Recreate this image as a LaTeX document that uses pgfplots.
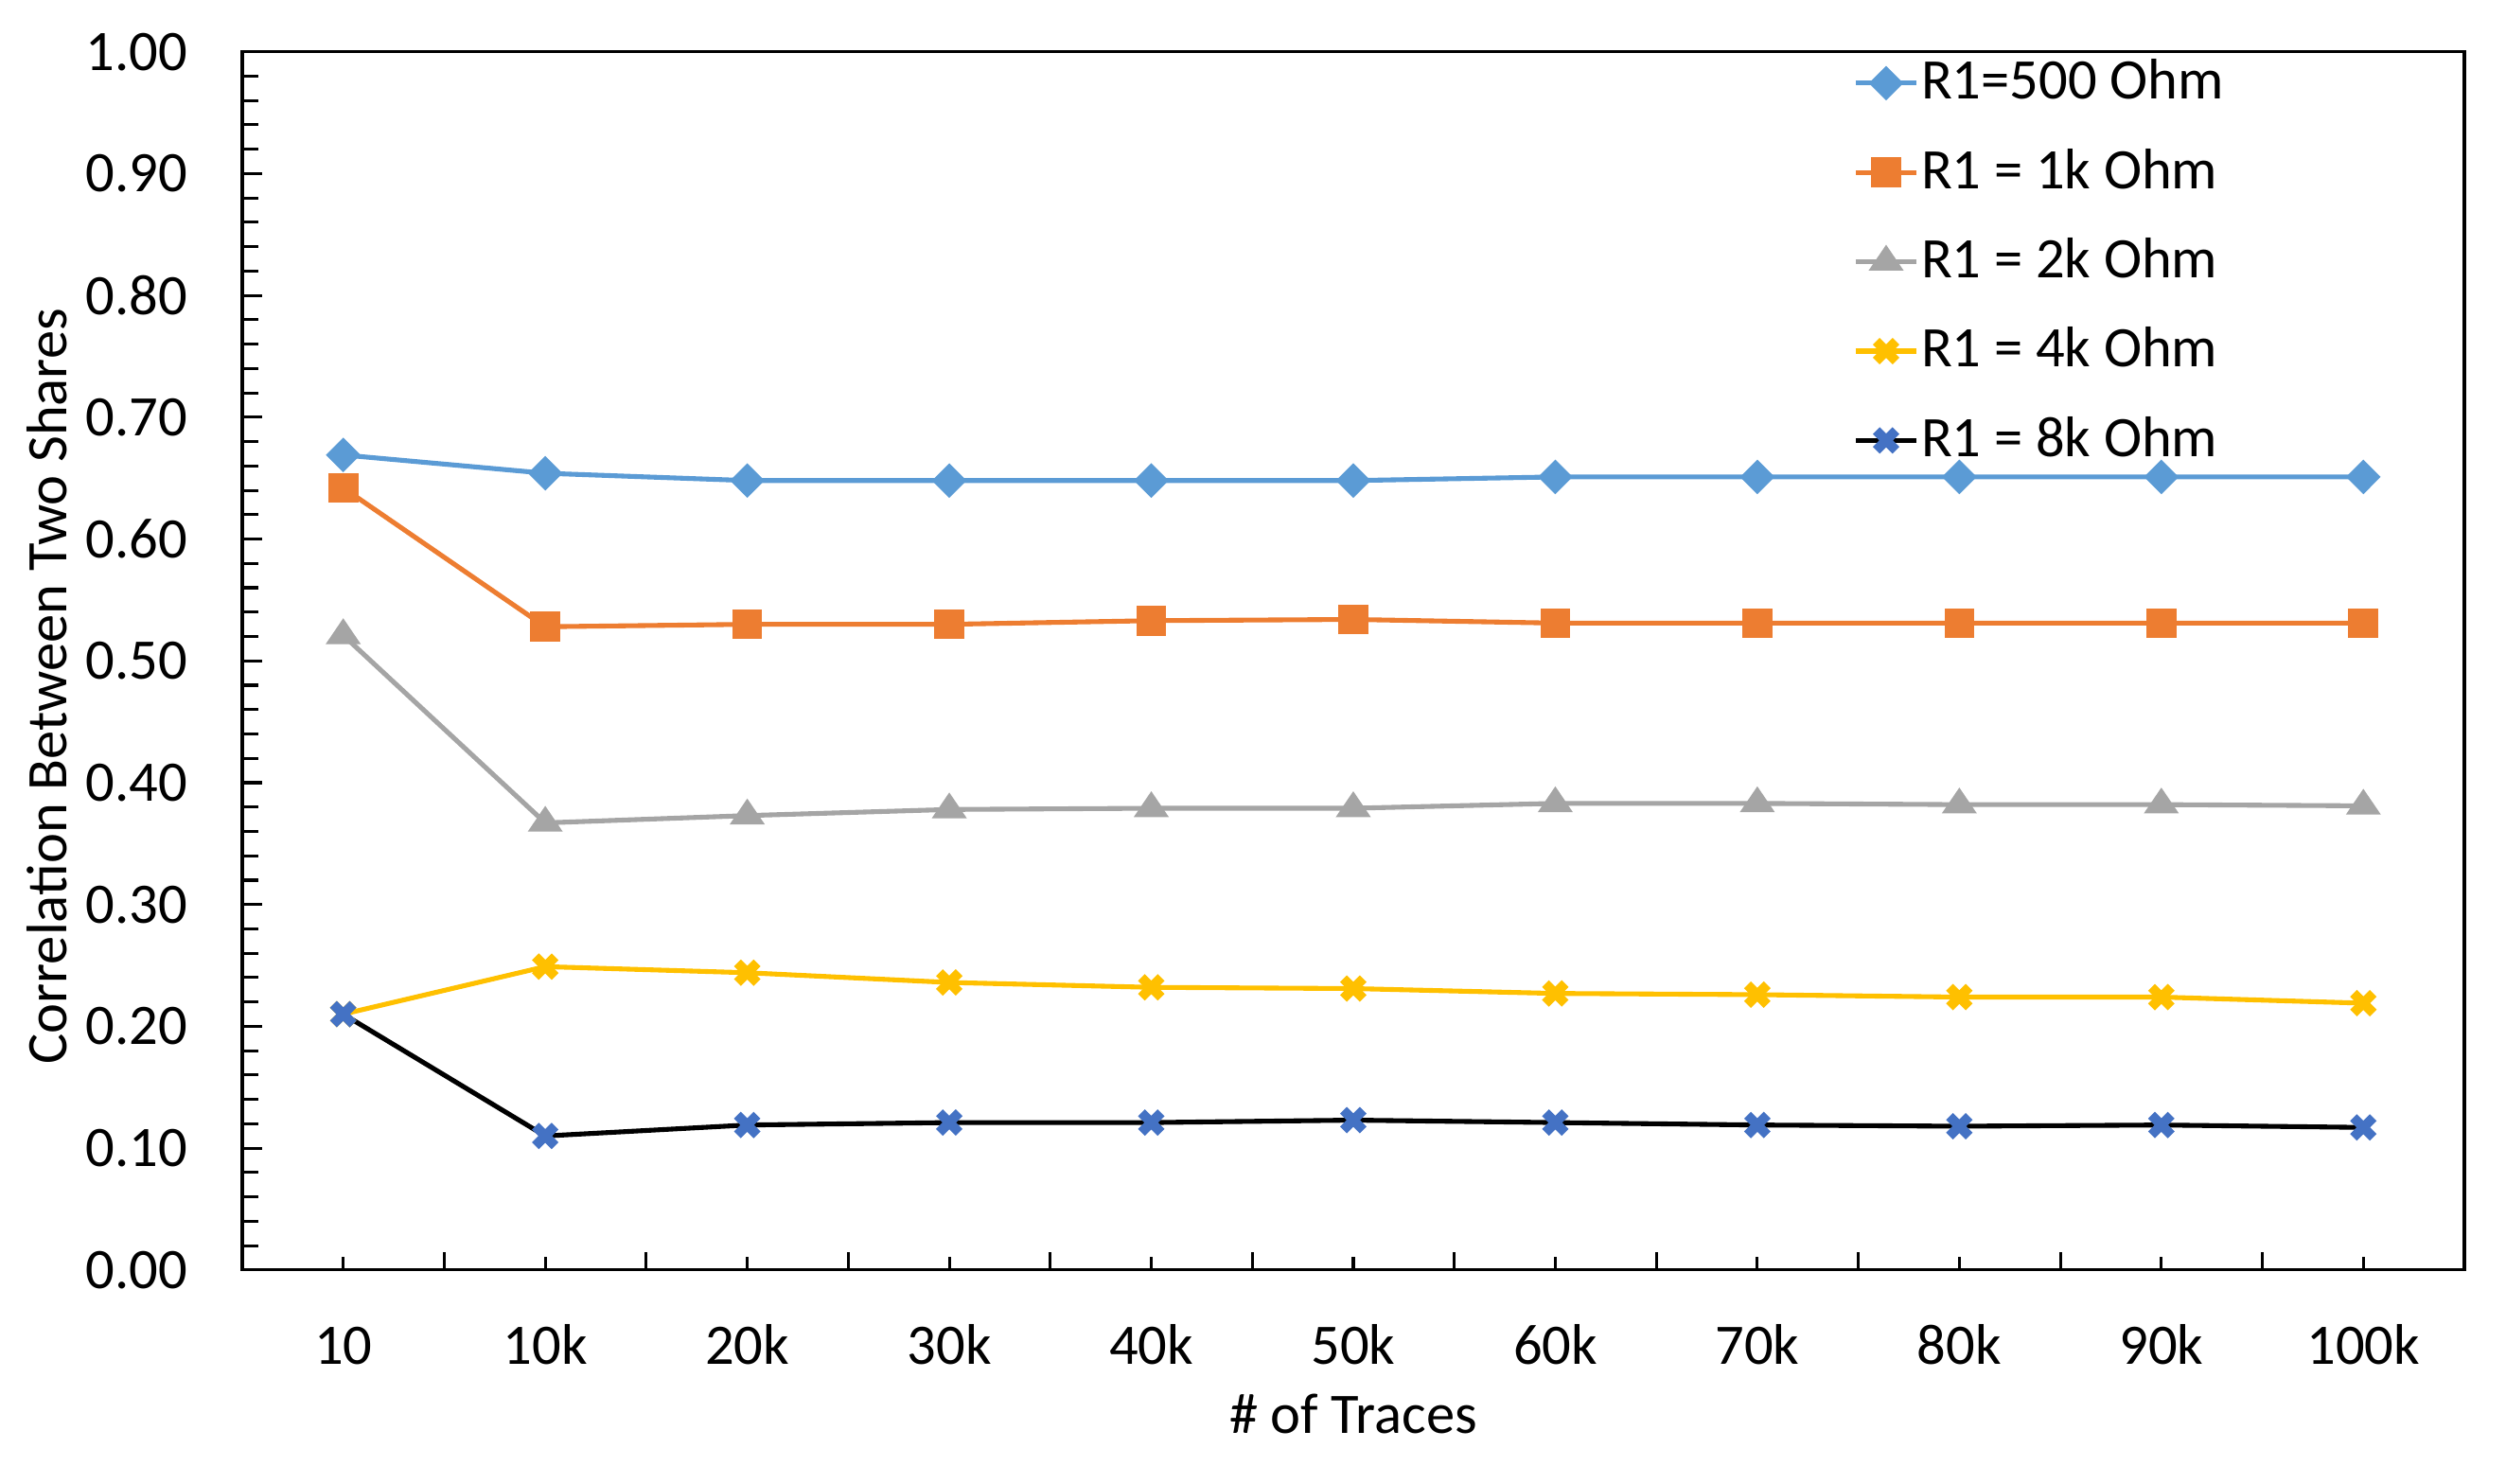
\documentclass[border=0pt]{standalone}
\usepackage{fontspec}
\setmainfont{Carlito}
\usepackage{pgfplots}
\pgfplotsset{compat=1.18}
\definecolor{cA}{HTML}{5B9BD5}
\definecolor{cB}{HTML}{ED7D31}
\definecolor{cC}{HTML}{A5A5A5}
\definecolor{cD}{HTML}{FFC000}
\definecolor{cE}{HTML}{4472C4}
\newcommand{\fs}{\fontsize{10.7pt}{12.8pt}\selectfont}
\begin{document}
\begin{tikzpicture}
\begin{axis}[
  scale only axis, width=415pt, height=227.5pt,
  xmin=-0.5, xmax=10.5, ymin=0, ymax=1,
  xtick={0,...,10},
  xticklabels={10,10k,20k,30k,40k,50k,60k,70k,80k,90k,100k},
  extra x ticks={0.5,1.5,...,9.5},
  extra x tick labels={},
  extra x tick style={major tick length=3.3pt},
  ytick={0,0.1,...,1.0},
  minor y tick num=4,
  extra y ticks={0,0.1,...,1.0},
  extra y tick labels={},
  extra y tick style={major tick length=3.8pt},
  major tick length=2.4pt, minor tick length=2.95pt,
  tick align=inside,
  xtick pos=bottom, ytick pos=left,
  axis line style={line width=0.55pt},
  tick style={line width=0.55pt, black},
  /pgf/number format/assume math mode=true,
  yticklabel style={/pgf/number format/fixed, /pgf/number format/fixed zerofill, /pgf/number format/precision=2, font=\fs, inner sep=0pt, anchor=east, xshift=-10pt},
  xticklabel style={font=\fs, inner sep=0pt, anchor=base, yshift=-17.6pt},
  xlabel={\# of Traces},
  ylabel={Correlation Between Two Shares},
  xlabel style={font=\fs, at={(axis description cs:0.5,-0.1185)}, anchor=center},
  ylabel style={font=\fs, at={(axis description cs:-0.0878,0.479)}, anchor=center},
  legend style={at={(axis description cs:0.7245,1.0)}, anchor=north west, draw=none, fill=none, font=\fs, row sep=5.35pt, inner sep=0pt, nodes={inner xsep=0.4pt, inner ysep=1.2pt}},
  legend cell align=left,
  legend image code/.code={\draw[mark repeat=2,mark phase=2] plot coordinates {(0cm,0cm) (0.2cm,0cm) (0.4cm,0cm)};},
  every axis plot/.append style={line width=0.9pt},
]
\addplot[color=cA, mark=diamond*, mark size=2.6pt, mark options={xscale=1.333, fill=cA, draw=cA}] coordinates {
(0,0.669) (1,0.654) (2,0.648) (3,0.648) (4,0.648) (5,0.648) (6,0.651) (7,0.651) (8,0.651) (9,0.651) (10,0.651)};
\addlegendentry{R1=500 Ohm}
\addplot[color=cB, mark=square*, mark size=2.35pt, mark options={fill=cB, draw=cB}] coordinates {
(0,0.642) (1,0.528) (2,0.530) (3,0.530) (4,0.533) (5,0.534) (6,0.531) (7,0.531) (8,0.531) (9,0.531) (10,0.531)};
\addlegendentry{R1 = 1k Ohm}
\addplot[color=cC, mark=triangle*, mark size=2.8pt, mark options={yscale=0.85, fill=cC, draw=cC}] coordinates {
(0,0.521) (1,0.367) (2,0.373) (3,0.378) (4,0.379) (5,0.379) (6,0.383) (7,0.383) (8,0.382) (9,0.382) (10,0.381)};
\addlegendentry{R1 = 2k Ohm}
\addplot[color=cD, mark=x, mark size=2.6pt, mark options={line width=1.8pt, draw=cD}] coordinates {
(0,0.210) (1,0.249) (2,0.244) (3,0.236) (4,0.232) (5,0.231) (6,0.227) (7,0.226) (8,0.224) (9,0.224) (10,0.219)};
\addlegendentry{R1 = 4k Ohm}
\addplot[color=black, mark=x, mark size=2.6pt, mark options={line width=1.8pt, draw=cE}] coordinates {
(0,0.210) (1,0.110) (2,0.119) (3,0.121) (4,0.121) (5,0.123) (6,0.121) (7,0.119) (8,0.118) (9,0.119) (10,0.117)};
\addlegendentry{R1 = 8k Ohm}
\end{axis}
\path (current axis.south west) ++(-45.24pt,-39.9pt) coordinate (bl);
\path (current axis.north east) ++(7.78pt,9.67pt) coordinate (tr);
\path (bl) rectangle (tr);
\end{tikzpicture}
\end{document}
